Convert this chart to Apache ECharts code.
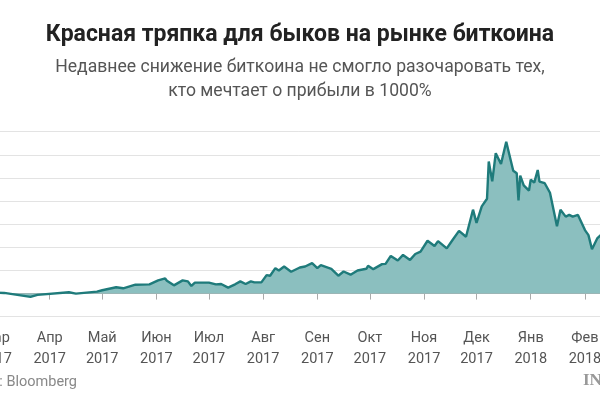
<!DOCTYPE html>
<html><head><meta charset="utf-8">
<script src="https://cdn.jsdelivr.net/npm/echarts@6/dist/echarts.min.js"></script>
<style>html,body{margin:0;padding:0;width:600px;height:400px;overflow:hidden;background:#fff}
#c{position:absolute;left:-60px;top:0;width:720px;height:400px}</style>
</head><body><div id="c"></div>
<script>
const dates = ['2017-03-01','2017-03-06','2017-03-21','2017-03-25','2017-04-12','2017-04-16','2017-04-28','2017-05-01','2017-05-09','2017-05-13','2017-05-20','2017-05-28','2017-06-02','2017-06-06','2017-06-07','2017-06-11','2017-06-16','2017-06-19','2017-06-21','2017-06-23','2017-07-01','2017-07-05','2017-07-08','2017-07-12','2017-07-16','2017-07-19','2017-07-22','2017-07-25','2017-07-27','2017-07-31','2017-08-03','2017-08-05','2017-08-08','2017-08-10','2017-08-13','2017-08-17','2017-08-22','2017-08-23','2017-08-25','2017-08-29','2017-09-01','2017-09-03','2017-09-09','2017-09-13','2017-09-16','2017-09-20','2017-09-24','2017-09-29','2017-09-30','2017-10-03','2017-10-08','2017-10-10','2017-10-13','2017-10-17','2017-10-20','2017-10-24','2017-10-27','2017-10-30','2017-11-03','2017-11-07','2017-11-09','2017-11-14','2017-11-17','2017-11-21','2017-11-25','2017-11-29','2017-12-01','2017-12-04','2017-12-07','2017-12-08','2017-12-10','2017-12-12','2017-12-15','2017-12-18','2017-12-22','2017-12-24','2017-12-25','2017-12-26','2017-12-28','2017-12-31','2018-01-01','2018-01-03','2018-01-05','2018-01-06','2018-01-09','2018-01-12','2018-01-13','2018-01-16','2018-01-18','2018-01-21','2018-01-23','2018-01-25','2018-01-28','2018-02-01','2018-02-03','2018-02-05','2018-02-06','2018-02-08','2018-02-10'];
const values = [10,7,-36,-14,14,0,21,36,68,57,96,100,143,164,139,89,143,132,82,118,118,100,104,64,100,132,104,132,121,121,200,193,275,250,293,236,282,264,293,329,275,307,268,193,239,204,250,268,300,264,318,321,407,357,418,364,428,453,571,514,567,489,571,678,614,907,764,943,1025,1428,1214,1518,1400,1642,1328,1300,1007,1275,1170,1114,1232,1200,1336,1210,1193,1090,1100,728,907,832,850,832,850,686,632,479,472,596,632];
const months = ['Янв','Фев','Мар','Апр','Май','Июн','Июл','Авг','Сен','Окт','Ноя','Дек'];
const yTicks = {min:-250, max:1750, step:250};
const chart = echarts.init(document.getElementById('c'));
const F = 'Roboto, "Noto Sans", sans-serif';
chart.setOption({
  animation:false,
  title:{text:'Красная тряпка для быков на рынке биткоина',
    subtext:'Недавнее снижение биткоина не смогло разочаровать тех,\nкто мечтает о прибыли в 1000%',
    left:'center', top:19, itemGap:9,
    textStyle:{fontFamily:F,fontSize:23,fontWeight:'bold',color:'#222'},
    subtextStyle:{fontFamily:F,fontSize:17.6,color:'#555',lineHeight:24,align:'center'}},
  grid:{left:51.4,right:59.3,top:131.7,bottom:83.3},
  xAxis:{type:'time',min:'2017-03-01',max:'2018-02-10',minInterval:28*864e5,maxInterval:31*864e5,
    axisLine:{lineStyle:{color:'#aaa'}},axisTick:{show:true,length:6,lineStyle:{color:'#aaa'}},
    splitLine:{show:false},
    axisLabel:{fontFamily:F,fontSize:14.5,color:'#555',lineHeight:21,margin:11,hideOverlap:false,
      formatter:v=>{const d=new Date(v);return months[d.getMonth()]+'\n'+d.getFullYear();}}},
  yAxis:{type:'value',min:yTicks.min,max:yTicks.max,interval:yTicks.step,
    axisLine:{show:false},axisTick:{show:false},
    axisLabel:{fontFamily:F,fontSize:14,color:'#555',formatter:'{value}%'},
    splitLine:{lineStyle:{color:'#e3e3e3'}}},
  series:[{type:'line',data:dates.map((d,i)=>[d,values[i]]),showSymbol:false,
    lineStyle:{color:'#1f7b7b',width:2.4},itemStyle:{color:'#1f7b7b'},
    areaStyle:{color:'#8bbfbf',opacity:1,origin:0}}],
  graphic:[
    {type:'text',left:-6,top:375,style:{text:'Источник: Bloomberg',font:'14.5px Roboto, sans-serif',fill:'#888'}},
    {type:'text',left:643,top:372,style:{text:'INC.',font:'bold 17px "Liberation Serif", serif',fill:'#999'}}
  ]
});
</script></body></html>
